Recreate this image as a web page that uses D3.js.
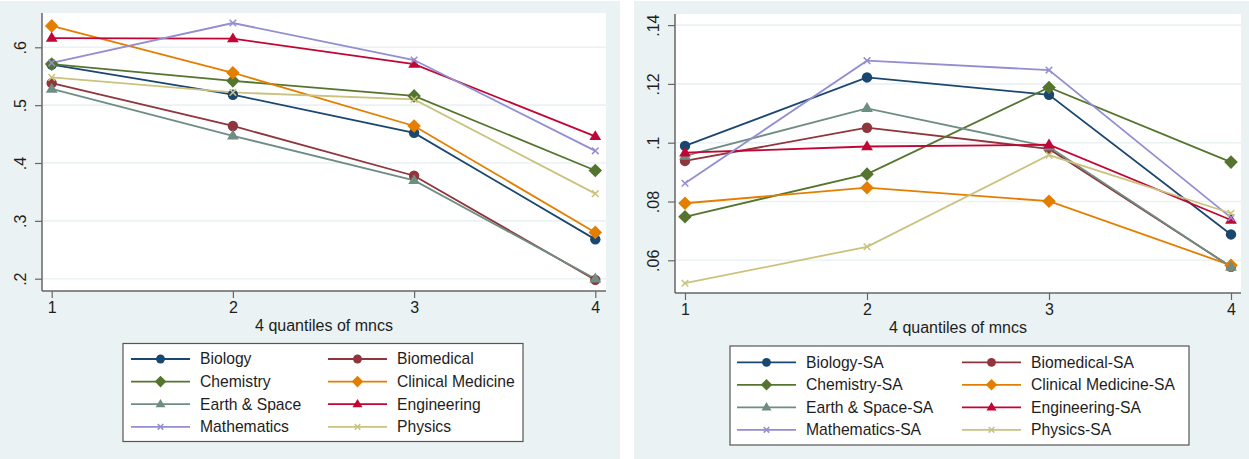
<!DOCTYPE html>
<html>
<head>
<meta charset="utf-8">
<script src="https://cdn.jsdelivr.net/npm/d3@7"></script>
<style>
  html, body { margin: 0; padding: 0; background: #ffffff; }
  svg { display: block; font-family: "Liberation Sans", Arial, sans-serif; }
</style>
</head>
<body>
<svg id="chart" width="1249" height="459"></svg>
<script>
// Quantile categories shared by both panels
const quantiles = [1, 2, 3, 4];

// Left panel: field shares by quantile
const fieldsLeft = ["Biology", "Biomedical", "Chemistry", "Clinical Medicine",
                    "Earth & Space", "Engineering", "Mathematics", "Physics"];
const biology      = [0.570, 0.518, 0.452, 0.268];
const biomedical   = [0.538, 0.464, 0.378, 0.198];
const chemistry    = [0.571, 0.542, 0.516, 0.387];
const clinicalMed  = [0.637, 0.556, 0.464, 0.280];
const earthSpace   = [0.528, 0.447, 0.370, 0.200];
const engineering  = [0.616, 0.615, 0.571, 0.446];
const mathematics  = [0.573, 0.642, 0.578, 0.421];
const physics      = [0.548, 0.522, 0.510, 0.347];
const leftTicks = [0.2, 0.3, 0.4, 0.5, 0.6];
const leftTickLabels = [".2", ".3", ".4", ".5", ".6"];

// Right panel: same fields, SA series
const fieldsRight = ["Biology-SA", "Biomedical-SA", "Chemistry-SA", "Clinical Medicine-SA",
                     "Earth & Space-SA", "Engineering-SA", "Mathematics-SA", "Physics-SA"];
const biologySA     = [0.0989, 0.1222, 0.1163, 0.0688];
const biomedicalSA  = [0.0938, 0.1051, 0.0979, 0.0578];
const chemistrySA   = [0.0748, 0.0893, 0.1188, 0.0934];
const clinicalMedSA = [0.0794, 0.0847, 0.0801, 0.0583];
const earthSpaceSA  = [0.0955, 0.1117, 0.0986, 0.0577];
const engineeringSA = [0.0966, 0.0987, 0.0993, 0.0737];
const mathematicsSA = [0.0862, 0.1279, 0.1247, 0.0745];
const physicsSA     = [0.0522, 0.0646, 0.0958, 0.0760];
const rightTicks = [0.06, 0.08, 0.10, 0.12, 0.14];
const rightTickLabels = [".06", ".08", ".1", ".12", ".14"];

const xTitle = "4 quantiles of mncs";

// Series styling (Stata s2color palette)
const colors  = ["#1a476f", "#90353b", "#55752f", "#e37e00", "#6e8e84", "#c10534", "#938dd2", "#cac27e"];
const symbols = ["circle", "circle", "diamond", "diamond", "triangle", "triangle", "x", "x"];

const svg = d3.select("#chart");
const BG = "#eaf2f3";
const TXT = "#1e1e1e";

function drawMarker(g, type, cx, cy, color, scale) {
  const s = scale || 1;
  if (type === "circle") {
    g.append("circle").attr("cx", cx).attr("cy", cy).attr("r", 5.2 * s).attr("fill", color);
  } else if (type === "diamond") {
    const r = 6.8 * s;
    g.append("path").attr("d", `M${cx},${cy - r}L${cx + r},${cy}L${cx},${cy + r}L${cx - r},${cy}Z`).attr("fill", color);
  } else if (type === "triangle") {
    const r = 6.2 * s;
    g.append("path").attr("d", `M${cx},${cy - r}L${cx + r * 0.95},${cy + r * 0.6}L${cx - r * 0.95},${cy + r * 0.6}Z`).attr("fill", color);
  } else {
    const r = 3.3 * s;
    g.append("path").attr("d", `M${cx - r},${cy - r}L${cx + r},${cy + r}M${cx + r},${cy - r}L${cx - r},${cy + r}`)
      .attr("stroke", color).attr("stroke-width", 1.5).attr("fill", "none");
  }
}

function drawPanel(cfg) {
  const g = svg.append("g");
  // panel background
  g.append("rect").attr("x", cfg.bx).attr("y", 1).attr("width", cfg.bw).attr("height", 458).attr("fill", BG);
  // plot region
  g.append("rect").attr("x", cfg.px0).attr("y", cfg.py0)
    .attr("width", cfg.px1 - cfg.px0).attr("height", cfg.py1 - cfg.py0).attr("fill", "#ffffff");

  const x = d3.scaleLinear().domain([1, 4]).range([cfg.x1, cfg.x4]);
  const y = d3.scaleLinear().domain(cfg.ydom).range(cfg.yrange);

  // grid lines
  g.selectAll("line.grid").data(cfg.ticks).enter().append("line")
    .attr("x1", cfg.px0).attr("x2", cfg.px1)
    .attr("y1", d => y(d)).attr("y2", d => y(d))
    .attr("stroke", BG).attr("stroke-width", 1.6);

  // y axis with rotated labels
  const yAxis = d3.axisLeft(y).tickValues(cfg.ticks)
    .tickFormat((d, i) => cfg.tickLabels[i]).tickSize(7).tickPadding(5);
  const ya = g.append("g").attr("transform", `translate(${cfg.px0},0)`).call(yAxis);
  ya.select(".domain").attr("d", `M0,${cfg.py0}V${cfg.py1}`).attr("stroke", "#666").attr("stroke-width", 1.5);
  ya.selectAll(".tick line").attr("stroke", "#666").attr("stroke-width", 1.2);
  ya.selectAll(".tick text")
    .attr("font-size", 16).attr("fill", TXT)
    .attr("x", 0).attr("y", 0).attr("dy", "0.35em")
    .attr("text-anchor", "middle")
    .attr("transform", `translate(${-cfg.px0 + cfg.ylabX},0) rotate(-90)`);

  // x axis
  const xAxis = d3.axisBottom(x).tickValues(quantiles).tickFormat(d3.format("d")).tickSize(7).tickPadding(4);
  const xa = g.append("g").attr("transform", `translate(0,${cfg.py1})`).call(xAxis);
  xa.select(".domain").attr("d", `M${cfg.px0},0H${cfg.px1}`).attr("stroke", "#666").attr("stroke-width", 1.5);
  xa.selectAll(".tick line").attr("stroke", "#666").attr("stroke-width", 1.2);
  xa.selectAll(".tick text").attr("font-size", 16).attr("fill", TXT);

  g.append("text").attr("x", (cfg.px0 + cfg.px1) / 2).attr("y", cfg.titleY)
    .attr("text-anchor", "middle").attr("font-size", 16).attr("fill", TXT).text(xTitle);

  // series lines and markers
  const line = d3.line().x((d, i) => x(quantiles[i])).y(d => y(d));
  cfg.series.forEach((vals, k) => {
    g.append("path").datum(vals).attr("d", line)
      .attr("fill", "none").attr("stroke", colors[k]).attr("stroke-width", 1.8);
  });
  cfg.series.forEach((vals, k) => {
    vals.forEach((v, i) => drawMarker(g, symbols[k], x(quantiles[i]), y(v), colors[k]));
  });

  // legend
  const L = cfg.legend;
  g.append("rect").attr("x", L.x).attr("y", L.y).attr("width", L.w).attr("height", L.h)
    .attr("fill", "#ffffff").attr("stroke", "#555").attr("stroke-width", 1.2);
  cfg.names.forEach((name, k) => {
    const col = k % 2, row = Math.floor(k / 2);
    const lx = L.x + L.colX[col];
    const ly = L.y + L.row0 + row * L.rowH;
    g.append("line").attr("x1", lx).attr("x2", lx + 59).attr("y1", ly).attr("y2", ly)
      .attr("stroke", colors[k]).attr("stroke-width", 1.8);
    drawMarker(g, symbols[k], lx + 29.5, ly, colors[k], 0.85);
    g.append("text").attr("x", lx + L.textOff).attr("y", ly).attr("dy", "0.35em")
      .attr("font-size", 15.7).attr("fill", TXT).text(name);
  });
}

drawPanel({
  bx: 0, bw: 620,
  px0: 42, px1: 606, py0: 13, py1: 291,
  x1: 51.7, x4: 595.3,
  ydom: [0.2, 0.6], yrange: [278.7, 47.3],
  ticks: leftTicks, tickLabels: leftTickLabels,
  ylabX: 20, titleY: 331,
  series: [biology, biomedical, chemistry, clinicalMed, earthSpace, engineering, mathematics, physics],
  names: fieldsLeft,
  legend: { x: 123, y: 343.5, w: 400, h: 98, colX: [8, 205], row0: 15.5, rowH: 22.6, textOff: 69 }
});

drawPanel({
  bx: 634, bw: 615,
  px0: 675, px1: 1241, py0: 14, py1: 293,
  x1: 685, x4: 1231,
  ydom: [0.06, 0.14], yrange: [260.3, 25.1],
  ticks: rightTicks, tickLabels: rightTickLabels,
  ylabX: 653, titleY: 333,
  series: [biologySA, biomedicalSA, chemistrySA, clinicalMedSA, earthSpaceSA, engineeringSA, mathematicsSA, physicsSA],
  names: fieldsRight,
  legend: { x: 730, y: 346, w: 459, h: 99, colX: [7, 232], row0: 16.3, rowH: 22.5, textOff: 69 }
});
</script>
</body>
</html>
